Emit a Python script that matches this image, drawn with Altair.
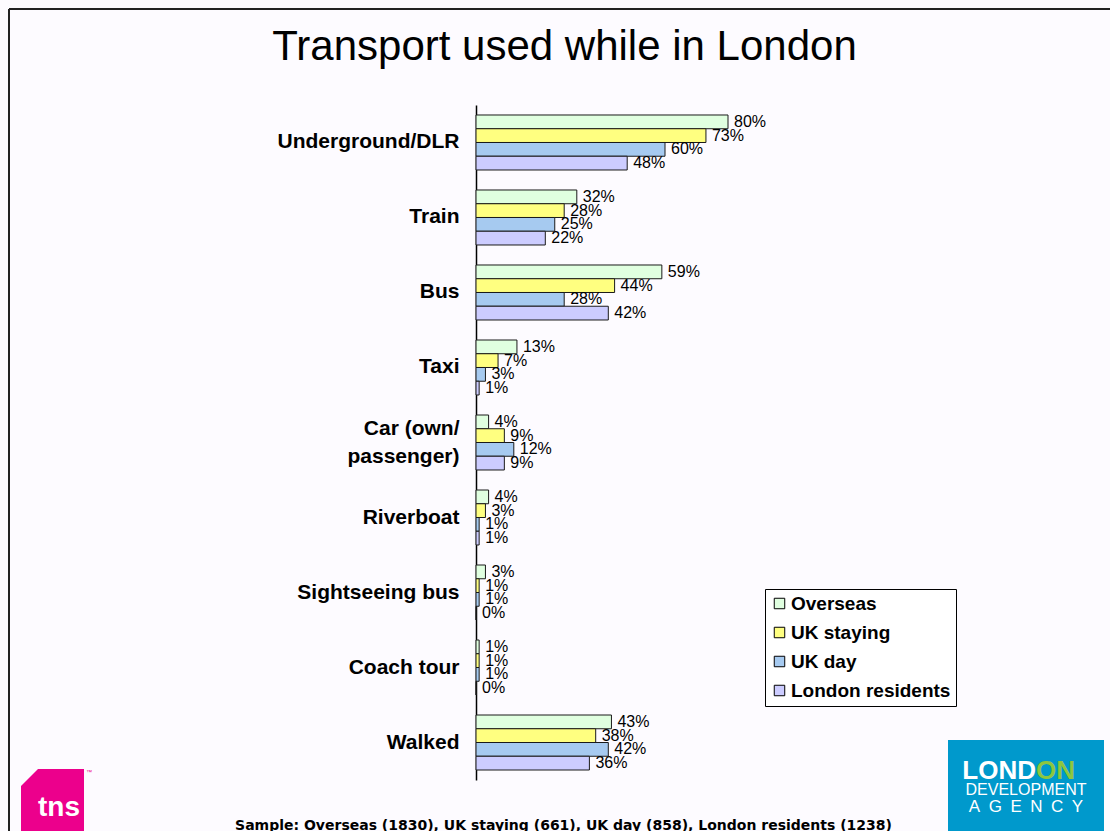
import altair as alt
import pandas as pd

categories = ["Underground/DLR", "Train", "Bus", "Taxi", "Car (own/ passenger)",
              "Riverboat", "Sightseeing bus", "Coach tour", "Walked"]
series = ["Overseas", "UK staying", "UK day", "London residents"]
overseas = [80, 32, 59, 13, 4, 4, 3, 1, 43]
uk_staying = [73, 28, 44, 7, 9, 3, 1, 1, 38]
uk_day = [60, 25, 28, 3, 12, 1, 1, 1, 42]
london_residents = [48, 22, 42, 1, 9, 1, 0, 0, 36]
colors = ["#e0ffe0", "#ffff80", "#a6caf0", "#ccccff"]

title_text = "Transport used while in London"
footnote_text = "Sample: Overseas (1830), UK staying (661), UK day (858), London residents (1238)"

rows = []
for s, vals in zip(series, [overseas, uk_staying, uk_day, london_residents]):
    for c, v in zip(categories, vals):
        rows.append({"category": c, "series": s, "value": v, "label": f"{v}%"})
df = pd.DataFrame(rows)

label_expr = ("datum.value == 'Car (own/ passenger)' ? ['Car (own/', 'passenger)'] : datum.label")
multi_test = "datum.value == 'Car (own/ passenger)'"

x_enc = alt.X("value:Q", scale=alt.Scale(domain=[0, 100]), axis=None)
y_enc = alt.Y(
    "category:N", sort=categories,
    scale=alt.Scale(paddingInner=0.2667, paddingOuter=0.1333),
    axis=alt.Axis(title=None, ticks=False, grid=False, labelPadding=17,
                  labelFont="Liberation Sans", labelFontWeight="bold", labelFontSize=21,
                  labelColor="black", domainColor="black", domainWidth=1.5,
                  labelLineHeight=28, labelExpr=label_expr, labelLimit=400,
                  labelOffset=alt.condition(multi_test, alt.value(-14), alt.value(0))),
)
yoff_enc = alt.YOffset("series:N", sort=series, scale=alt.Scale(paddingInner=0, paddingOuter=0))

base = alt.Chart(df)
bars = base.mark_bar(stroke="#1a1a1a", strokeWidth=1).encode(
    x=x_enc, y=y_enc, yOffset=yoff_enc,
    color=alt.Color(
        "series:N", sort=series,
        scale=alt.Scale(domain=series, range=colors),
        legend=alt.Legend(title=None, orient="none", legendX=289, legendY=484,
                          labelFont="Liberation Sans", labelFontWeight="bold",
                          labelFontSize=19, labelColor="black", symbolType="square",
                          symbolSize=110, symbolStrokeColor="black", symbolStrokeWidth=1,
                          symbolOpacity=1, rowPadding=9, padding=5,
                          strokeColor="black", fillColor="white", labelOffset=2,
                          labelLimit=400),
    ),
)
labels = base.mark_text(align="left", baseline="middle", dx=6, font="Liberation Sans",
                        fontSize=16, color="black").encode(
    x=x_enc, y=alt.Y("category:N", sort=categories), yOffset=yoff_enc, text="label:N")

one = pd.DataFrame({"t": [title_text], "f": [footnote_text]})
deco = alt.Chart(one)

title = deco.mark_text(align="center", baseline="alphabetic", font="Liberation Sans",
                       fontSize=42, color="black").encode(
    x=alt.value(88.5), y=alt.value(-45), text="t:N")
foot = deco.mark_text(align="center", baseline="alphabetic", font="DejaVu Sans",
                      fontWeight="bold", fontSize=14, color="black").encode(
    x=alt.value(87.5), y=alt.value(725), text="f:N")

border_v = deco.mark_rule(color="#222222", strokeWidth=2).encode(
    x=alt.value(-467), y=alt.value(-96), y2=alt.value(726))
border_h = deco.mark_rule(color="#222222", strokeWidth=2).encode(
    x=alt.value(-467), x2=alt.value(634), y=alt.value(-96))

# tns logo
tns_box = deco.mark_rect(color="#ec008c").encode(
    x=alt.value(-455), x2=alt.value(-392), y=alt.value(664), y2=alt.value(726))
tns_cut = deco.mark_point(shape="M -1 -1 L 1 -1 L -1 1 Z", filled=True, opacity=1,
                          color="#fdfbff", strokeWidth=0, size=289).encode(
    x=alt.value(-446.5), y=alt.value(672.5))
tns_txt = deco.mark_text(align="center", baseline="alphabetic", font="Liberation Sans",
                         fontWeight="bold", fontSize=28, color="white").encode(
    x=alt.value(-417), y=alt.value(711), text=alt.value("tns"))
tns_tm = deco.mark_text(align="left", baseline="middle", font="Liberation Sans",
                        fontSize=6, color="#ec008c").encode(
    x=alt.value(-390), y=alt.value(667), text=alt.value("™"))

# LDA logo
lda_box = deco.mark_rect(color="#0099cc").encode(
    x=alt.value(472), x2=alt.value(628), y=alt.value(635), y2=alt.value(726))
lda_1 = deco.mark_text(align="right", baseline="alphabetic", font="Liberation Sans",
                       fontWeight="bold", fontSize=26, color="white").encode(
    x=alt.value(560), y=alt.value(674), text=alt.value("LOND"))
lda_2 = deco.mark_text(align="left", baseline="alphabetic", font="Liberation Sans",
                       fontWeight="bold", fontSize=26, color="#8dc63f").encode(
    x=alt.value(560), y=alt.value(674), text=alt.value("ON"))
lda_3 = deco.mark_text(align="center", baseline="alphabetic", font="Liberation Sans",
                       fontSize=16, color="white").encode(
    x=alt.value(550), y=alt.value(690), text=alt.value("DEVELOPMENT"))
lda_4 = deco.mark_text(align="center", baseline="alphabetic", font="Liberation Sans",
                       fontSize=17, color="white").encode(
    x=alt.value(550), y=alt.value(707), text=alt.value("A\u2002G\u2002E\u2002N\u2002C\u2002Y"))

chart = alt.layer(
    bars, labels, title, foot, border_v, border_h,
    tns_box, tns_cut, tns_txt, tns_tm, lda_box, lda_1, lda_2, lda_3, lda_4,
).properties(
    width=315, height=675,
    padding={"left": 476, "top": 105, "right": 319, "bottom": 51},
    autosize=alt.AutoSizeParams(type="none"),
).configure(background="#fdfbff").configure_view(stroke=None)

chart.save("out.html", embed_options={"renderer": "svg", "actions": False})
